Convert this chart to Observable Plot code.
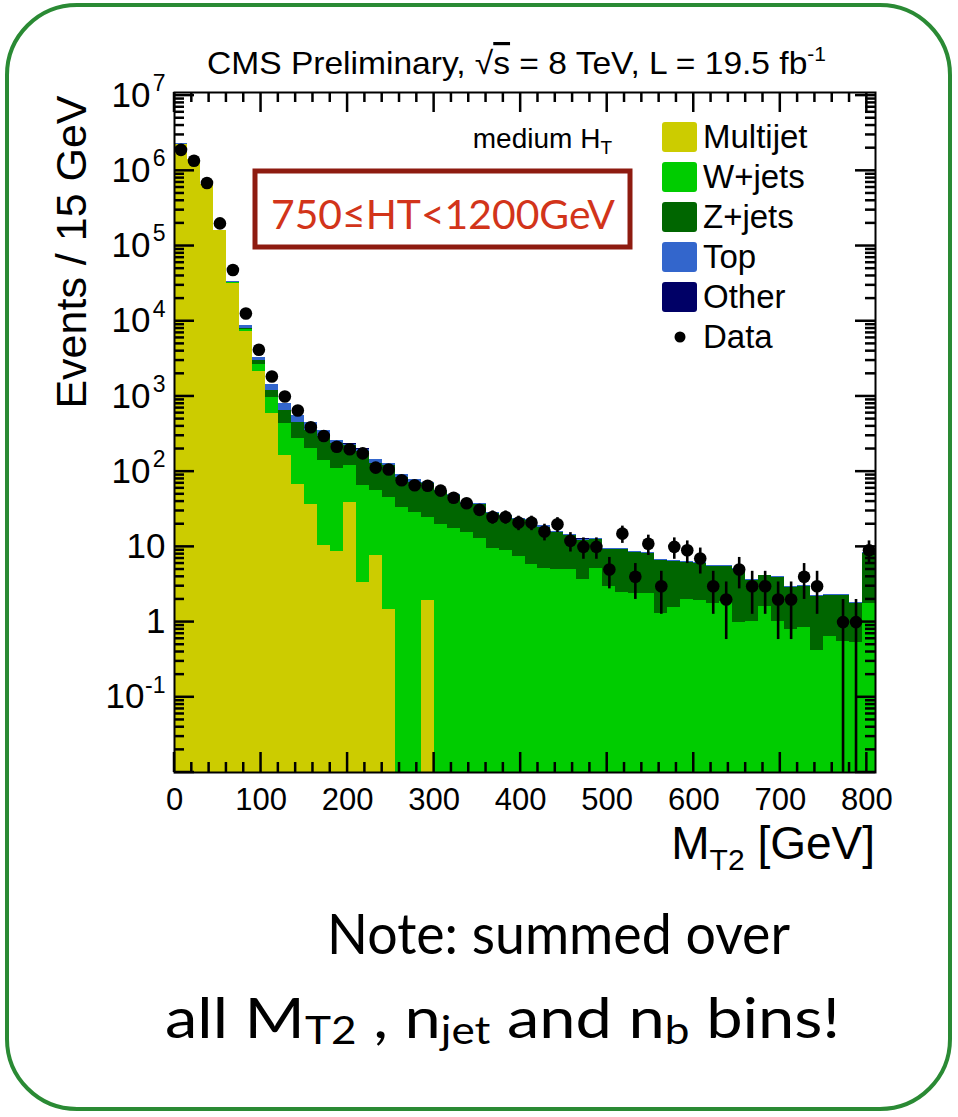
<!DOCTYPE html>
<html>
<head>
<meta charset="utf-8">
<script src="https://cdn.jsdelivr.net/npm/d3@7"></script>
<script src="https://cdn.jsdelivr.net/npm/@observablehq/plot@0.6"></script>
<style>
  html, body { margin: 0; padding: 0; background: #fff; }
  #chart { width: 958px; height: 1117px; overflow: hidden; }
</style>
</head>
<body>
<div id="chart"></div>
<script>
// ---------- data ----------
const binWidth = 15;
const binLow = [0,15,30,45,60,75,90,105,120,135,150,165,180,195,210,225,240,255,270,285,300,315,330,345,360,375,390,405,420,435,450,465,480,495,510,525,540,555,570,585,600,615,630,645,660,675,690,705,720,735,750,765,780,795];

const multijet = [2270000,1430000,650000,160000,32000,7300,2150,594,163,67,37,10.4,8.7,39,3.4,7.6,1.47,0,0,1.92,0,0,0,0,0,0,0,0,0,0,0,0,0,0,0,0,0,0,0,0,0,0,0,0,0,0,0,0,0,0,0,0,0,0];
const wjets = [1000,1500,1500,1200,800,570,490,376,275,209,167,130,101,81,61.6,49.4,43.5,33,28.7,23,19.7,17.6,15.5,13.1,9.5,8.9,7.4,5.9,5.2,5.0,5.0,3.66,5.2,2.95,2.48,2.43,2.4,1.30,1.56,2.02,1.92,1.77,1.88,1.0,1.02,1.6,1.02,0.79,0.85,0.415,0.64,0.55,0.54,1.77];
const zjets = [300,500,500,400,300,230,330,246,208,171,146,151,127,104,121,73,75,51,43,44,34.3,30.4,22,23.2,18,16.1,15.6,16.6,13.1,10.4,9,8.6,7.3,6.35,6.82,5.9,5.75,5.2,4.74,4.2,4.1,3.68,3.67,3.97,2.58,2.5,2.9,2.1,2.13,1.78,1.61,1.7,1.24,6.43];
const topQuark = [2000,2000,1500,1000,800,600,330,216,161,106,101,59,22,9,14,14,8,7,6,3,2,2,1.5,1.4,1.2,1,1,0.9,0.7,0.6,0.5,0.44,0.4,0.3,0.3,0.27,0.25,0.2,0.2,0.18,0.18,0.15,0.15,0.13,0.1,0.1,0.08,0.06,0.06,0.05,0.05,0.05,0.04,0.2];
const other = [30,30,20,10,5,3,2,1.5,1,0.8,0.6,0.5,0.4,0.3,0.3,0.2,0.2,0.15,0.12,0.1,0.08,0.07,0.06,0.06,0.05,0.05,0.04,0.04,0.04,0.03,0.03,0.03,0.03,0.02,0.02,0.02,0.02,0.02,0.02,0.02,0.02,0.01,0.01,0.01,0.01,0.01,0.01,0.01,0.01,0.01,0.01,0.01,0.01,0.02];
const dataCounts = [1900000,1360000,690000,200000,48000,12700,4170,1840,1000,650,390,298,214,199,175,113,107,77,66,65,56,45,38,31,25,25,21,21,16,20,12,10,10,5,15,4,11,3,10,9,7,3,2,5,3,3,2,2,4,3,null,1,1,9];

const compNames = ["Multijet","W+jets","Z+jets","Top","Other"];
const compColors = ["#cccc00","#00cc00","#006600","#3366cc","#000066"];
const compValues = [multijet, wjets, zjets, topQuark, other];

const xMajor = [0,100,200,300,400,500,600,700,800];
const xMinor = [20,40,60,80,120,140,160,180,220,240,260,280,320,340,360,380,420,440,460,480,520,540,560,580,620,640,660,680,720,740,760,780];
const yMajor = [0.01,0.1,1,10,100,1000,1e4,1e5,1e6,1e7];
const yLabels = [
  {v:1e7, base:"10", exp:"7"},
  {v:1e6, base:"10", exp:"6"},
  {v:1e5, base:"10", exp:"5"},
  {v:1e4, base:"10", exp:"4"},
  {v:1e3, base:"10", exp:"3"},
  {v:1e2, base:"10", exp:"2"},
  {v:10, base:"10", exp:""},
  {v:1, base:"1", exp:""},
  {v:0.1, base:"10", exp:"-1"}
];

// ---------- derived tables ----------
const rows = [];
binLow.forEach((lo, i) => {
  let cum = 0;
  compNames.forEach((name, k) => {
    const v = compValues[k][i];
    if (v > 0) {
      rows.push({x1: lo, x2: lo + binWidth, y1: cum > 0 ? cum : 1e-4, y2: cum + v, comp: name});
      cum += v;
    }
  });
});
const dataRows = binLow.map((lo, i) => ({c: lo + binWidth / 2, n: dataCounts[i]}))
  .filter(d => d.n != null)
  .map(d => { const e = Math.sqrt(d.n); return {...d, lo: Math.max(d.n - e, 1e-4), hi: d.n + e}; });

const yMinor = [];
for (const m of yMajor.slice(0, -1)) for (let k = 2; k <= 9; k++) yMinor.push(m * k);

// ---------- geometry ----------
const W = 958, H = 1117;
const mL = 174, mR = 83, mT = 92, mB = 345;
const xDom = [0, 810], yDom = [0.01, 1.1e7];
const majLen = 20, minLen = 10;

const font = "'Liberation Sans', Arial, Helvetica, sans-serif";

const plot = Plot.plot({
  width: W, height: H,
  marginLeft: mL, marginRight: mR, marginTop: mT, marginBottom: mB,
  x: {domain: xDom, axis: null},
  y: {type: "log", domain: yDom, axis: null},
  color: {domain: compNames, range: compColors},
  style: {fontFamily: font, background: "white", color: "black"},
  marks: [
    Plot.rect(rows, {x1: "x1", x2: "x2", y1: "y1", y2: "y2", fill: "comp", clip: true, shapeRendering: "crispEdges"}),
    Plot.ruleX(dataRows, {x: "c", y1: "lo", y2: "hi", stroke: "black", strokeWidth: 2.6, clip: true}),
    Plot.dot(dataRows, {x: "c", y: "n", r: 6.3, fill: "black", stroke: null}),
    Plot.frame({stroke: "black", strokeWidth: 2}),
    // x tick labels
    Plot.text(xMajor, {x: d => d, frameAnchor: "bottom", dy: 28, lineAnchor: "middle", text: d => String(d), fontSize: 31, fill: "black"}),
    // y tick labels (base + exponent)
    Plot.text(yLabels.filter(d => d.exp === ""), {y: "v", frameAnchor: "left", dx: -9, textAnchor: "end", lineAnchor: "middle", text: "base", fontSize: 35, fill: "black"}),
    Plot.text(yLabels.filter(d => d.exp.length === 1), {y: "v", frameAnchor: "left", dx: -24, textAnchor: "end", lineAnchor: "middle", text: "base", fontSize: 35, fill: "black"}),
    Plot.text(yLabels.filter(d => d.exp.length === 2), {y: "v", frameAnchor: "left", dx: -30, textAnchor: "end", lineAnchor: "middle", text: "base", fontSize: 35, fill: "black"}),
    Plot.text(yLabels.filter(d => d.exp !== ""), {y: "v", frameAnchor: "left", dx: -9, dy: -12, textAnchor: "end", lineAnchor: "middle", text: "exp", fontSize: 23, fill: "black"})
  ]
});
document.getElementById("chart").appendChild(plot);

// ---------- inward ROOT-style ticks, positioned through Plot's own scales ----------
const sx = plot.scale("x"), sy = plot.scale("y");
const svg = d3.select(plot);
const px0 = sx.apply(xDom[0]), px1 = sx.apply(xDom[1]);
const py0 = sy.apply(yDom[0]), py1 = sy.apply(yDom[1]);
const tg = svg.append("g").attr("stroke", "black").attr("stroke-width", 2.5).attr("fill", "none");
for (const [list, len] of [[xMajor, majLen], [xMinor, minLen]]) {
  for (const v of list) {
    const x = sx.apply(v);
    tg.append("line").attr("x1", x).attr("x2", x).attr("y1", py0).attr("y2", py0 - len);
    tg.append("line").attr("x1", x).attr("x2", x).attr("y1", py1).attr("y2", py1 + len);
  }
}
for (const [list, len] of [[yMajor, majLen], [yMinor, minLen]]) {
  for (const v of list) {
    const y = sy.apply(v);
    tg.append("line").attr("x1", px0).attr("x2", px0 + len).attr("y1", y).attr("y2", y);
    tg.append("line").attr("x1", px1).attr("x2", px1 - len).attr("y1", y).attr("y2", y);
  }
}

// ---------- annotations ----------
const g = svg.append("g").attr("font-family", font).attr("fill", "black").attr("text-anchor", "start");

// rounded green border
g.append("rect").attr("x", 7).attr("y", 5).attr("width", 943).attr("height", 1104)
  .attr("rx", 70).attr("fill", "none").attr("stroke", "#2a8a34").attr("stroke-width", 4);

// title
const t = g.append("text").attr("x", 207).attr("y", 74).attr("font-size", 32)
  .attr("textLength", 619).attr("lengthAdjust", "spacingAndGlyphs");
t.append("tspan").text("CMS Preliminary, √");
t.append("tspan").attr("text-decoration", "overline").text("s");
t.append("tspan").text(" = 8 TeV, L = 19.5 fb");
t.append("tspan").attr("font-size", 20).attr("dy", -13).text("-1");

// y axis title
g.append("text").attr("transform", "translate(86,252) rotate(-90)").attr("text-anchor", "middle")
  .attr("font-size", 43).text("Events / 15 GeV");

// x axis title
const xt = g.append("text").attr("x", 875).attr("y", 859).attr("text-anchor", "end").attr("font-size", 46);
xt.append("tspan").text("M");
xt.append("tspan").attr("font-size", 30).attr("dy", 11).text("T2");
xt.append("tspan").attr("dy", -11).text(" [GeV]");

// medium HT
const mh = g.append("text").attr("x", 612).attr("y", 148).attr("text-anchor", "end").attr("font-size", 28);
mh.append("tspan").text("medium H");
mh.append("tspan").attr("font-size", 19).attr("dy", 6).text("T");

// red box
g.append("rect").attr("x", 255).attr("y", 171).attr("width", 375).attr("height", 76)
  .attr("fill", "white").attr("stroke", "#8e1b10").attr("stroke-width", 5);
g.append("text").attr("x", 271).attr("y", 229)
  .attr("font-family", "Lato, 'Open Sans', sans-serif").attr("font-size", 40).attr("fill", "#d2341a")
  .attr("textLength", 344).attr("lengthAdjust", "spacingAndGlyphs")
  .text("750≤HT<1200GeV");

// legend
const lg = g.append("g");
compNames.forEach((name, k) => {
  const y0 = 122 + k * 40;
  lg.append("rect").attr("x", 662).attr("y", y0).attr("width", 35).attr("height", 30).attr("rx", 3)
    .attr("fill", compColors[k]);
  lg.append("text").attr("x", 703).attr("y", y0 + 26).attr("font-size", 33).text(name);
});
lg.append("circle").attr("cx", 680).attr("cy", 337).attr("r", 5.5).attr("fill", "black");
lg.append("text").attr("x", 703).attr("y", 348).attr("font-size", 33).text("Data");

// note
const noteFont = "Lato, 'Open Sans', sans-serif";
g.append("text").attr("x", 327).attr("y", 954)
  .attr("font-family", noteFont).attr("font-size", 56)
  .attr("textLength", 463).attr("lengthAdjust", "spacingAndGlyphs").text("Note: summed over");
const n2 = g.append("text").attr("x", 165).attr("y", 1038)
  .attr("font-family", noteFont).attr("font-size", 56)
  .attr("textLength", 675).attr("lengthAdjust", "spacingAndGlyphs");
n2.append("tspan").text("all M");
n2.append("tspan").attr("font-size", 38).attr("dy", 6).text("T2");
n2.append("tspan").attr("dy", -6).text(" , n");
n2.append("tspan").attr("font-size", 38).attr("dy", 6).text("jet");
n2.append("tspan").attr("dy", -6).text(" and n");
n2.append("tspan").attr("font-size", 38).attr("dy", 6).text("b");
n2.append("tspan").attr("dy", -6).text(" bins!");
</script>
</body>
</html>
